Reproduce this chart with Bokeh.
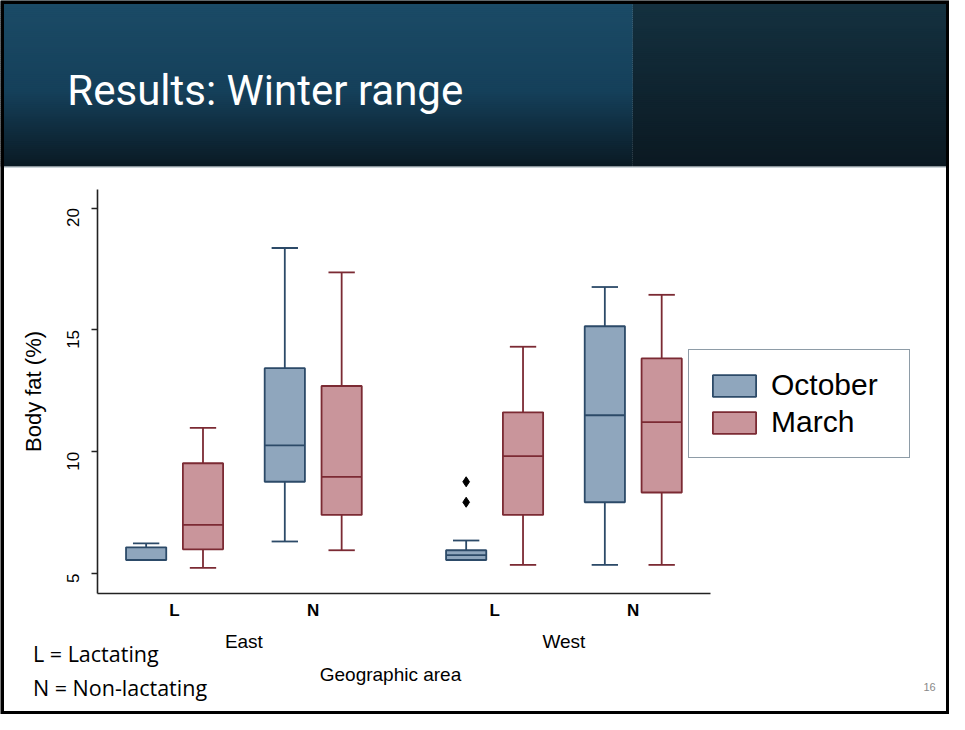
import math
from bokeh.plotting import figure
from bokeh.models import (ColumnDataSource, Range1d, FixedTicker, Legend, LegendItem,
                          LinearAxis)
from bokeh.transform import dodge
from bokeh.core.properties import value
from bokeh.embed import file_html
from bokeh.resources import INLINE

# ---------------- data ----------------
areas = ["East", "West"]
statuses = ["L", "N"]
months = ["October", "March"]

# order: East-L, East-N, West-L, West-N
oct_low = [5.56, 6.32, 5.56, 5.36]
oct_q1 = [5.56, 8.77, 5.56, 7.93]
oct_med = [5.56, 10.26, 5.76, 11.50]
oct_q3 = [6.08, 13.43, 5.96, 15.15]
oct_high = [6.24, 18.36, 6.36, 16.76]

mar_low = [5.24, 5.96, 5.36, 5.36]
mar_q1 = [6.00, 7.41, 7.41, 8.33]
mar_med = [7.00, 8.97, 9.82, 11.22]
mar_q3 = [9.53, 12.70, 11.62, 13.83]
mar_high = [10.98, 17.36, 14.31, 16.44]

outlier_area = ["West", "West"]
outlier_status = ["L", "L"]
outlier_vals = [8.77, 7.93]

y_ticks = [5, 10, 15, 20]
y_label = "Body fat (%)"
x_label = "Geographic area"
title_text = "Results: Winter range"
notes = ["L = Lactating", "N = Non-lactating"]
page_no = "16"

# ---------------- layout constants ----------------
W, H = 949, 714            # canvas
SW, SH = 965.0, 730.0       # slide design units
GROUP_STEP = 2.308          # distance between area groups (category units)
X0_PX, UNIT_PX = 177.0, 141.0        # slide px of first category, px per category
Y5_PX, YUNIT_PX = 586.0, 24.92       # slide px of y=5, px per y unit

def u_of(px):
    return (px - X0_PX) / UNIT_PX

def v_of(py):
    return 5 + (Y5_PX - py) / YUNIT_PX

cat_pos = {}
for gi, a in enumerate(areas):
    for si, s in enumerate(statuses):
        cat_pos[(a, s)] = gi * GROUP_STEP + si
order = [(a, s) for a in areas for s in statuses]
xpos = [cat_pos[k] for k in order]

p = figure(width=W, height=H,
           x_range=Range1d(u_of(0), u_of(SW)), y_range=Range1d(v_of(SH), v_of(0)),
           x_axis_type=None, y_axis_type=None,
           toolbar_location=None, output_backend="svg", min_border=0)
p.extra_x_ranges = {"sx": Range1d(0, SW)}
p.extra_y_ranges = {"sy": Range1d(SH, 0)}
p.outline_line_color = None
p.grid.visible = False
p.background_fill_color = "white"
p.border_fill_color = "white"

# ---------------- header (decoration) ----------------
def lerp(c1, c2, t):
    a = [int(c1[i:i + 2], 16) for i in (1, 3, 5)]
    b = [int(c2[i:i + 2], 16) for i in (1, 3, 5)]
    return "#%02x%02x%02x" % tuple(round(a[k] + (b[k] - a[k]) * t) for k in range(3))

n = 85
tops, bots, lcol, rcol = [], [], [], []
for i in range(n):
    tops.append(170 * i / n)
    bots.append(min(170, 170 * (i + 1) / n + 0.8))
    t = i / (n - 1)
    if t < 0.55:
        lcol.append(lerp("#1b4b67", "#15405a", t / 0.55))
    else:
        lcol.append(lerp("#15405a", "#0a1a24", (t - 0.55) / 0.45))
    rcol.append(lerp("#143140", "#0b1922", t))
p.quad(left=0, right=643, top=tops, bottom=bots, fill_color=lcol, line_color=None,
       x_range_name="sx", y_range_name="sy")
p.quad(left=643, right=SW, top=tops, bottom=bots, fill_color=rcol, line_color=None,
       x_range_name="sx", y_range_name="sy")
p.segment(x0=0, x1=SW, y0=170.5, y1=170.5, line_color="#cdd5da", line_width=1.5,
          x_range_name="sx", y_range_name="sy")
p.text(x=[68], y=[92], text=[title_text], text_color="white",
       text_font=value("Roboto"), text_font_size="42px",
       text_align="left", text_baseline="middle", x_range_name="sx", y_range_name="sy")

# ---------------- boxes ----------------
OFF = 0.205
BW = 0.29
CAP = 0.095

oct_src = ColumnDataSource(dict(x=xpos, low=oct_low, q1=oct_q1, med=oct_med, q3=oct_q3, high=oct_high))
mar_src = ColumnDataSource(dict(x=xpos, low=mar_low, q1=mar_q1, med=mar_med, q3=mar_q3, high=mar_high))

styles = [(oct_src, -OFF, "#8fa6bd", "#2c4a68"), (mar_src, OFF, "#c9959b", "#7b2a33")]
box_renderers = []
LW = 1.8
for src, off, fill, line in styles:
    xc = dodge("x", off)
    xl = dodge("x", off - CAP)
    xr = dodge("x", off + CAP)
    p.segment(x0=xc, x1=xc, y0="q3", y1="high", source=src, line_color=line, line_width=LW)
    p.segment(x0=xc, x1=xc, y0="q1", y1="low", source=src, line_color=line, line_width=LW)
    p.segment(x0=xl, x1=xr, y0="high", y1="high", source=src, line_color=line, line_width=LW)
    p.segment(x0=xl, x1=xr, y0="low", y1="low", source=src, line_color=line, line_width=LW)
    r = p.vbar(x=xc, width=BW, top="q3", bottom="q1", source=src,
               fill_color=fill, line_color=line, line_width=LW)
    box_renderers.append(r)
    bl = dodge("x", off - BW / 2)
    br = dodge("x", off + BW / 2)
    p.segment(x0=bl, x1=br, y0="med", y1="med", source=src, line_color=line, line_width=LW)

out_src = ColumnDataSource(dict(x=[cat_pos[(a, s)] for a, s in zip(outlier_area, outlier_status)],
                                y=outlier_vals))
p.scatter(x=dodge("x", -OFF), y="y", source=out_src, marker="diamond",
          size=10, fill_color="black", line_color="black")

# ---------------- axes ----------------
AX_LEFT = u_of(99)
AX_RIGHT = u_of(722)
AX_BOTTOM = v_of(606)
AX_TOP = v_of(193)
FONT = "Liberation Sans"

yax = LinearAxis(fixed_location=AX_LEFT, bounds=(AX_BOTTOM, AX_TOP),
                 ticker=FixedTicker(ticks=y_ticks), axis_label=y_label)
yax.major_label_orientation = math.pi / 2
yax.minor_tick_line_color = None
yax.major_tick_in = 0
yax.major_tick_out = 6
yax.major_label_standoff = 19
yax.major_label_text_font = FONT
yax.major_label_text_font_size = "17px"
yax.axis_label_text_font = FONT
yax.axis_label_text_font_size = "22px"
yax.axis_label_text_font_style = "normal"
yax.axis_label_standoff = 12
p.add_layout(yax, "left")

xax = LinearAxis(fixed_location=AX_BOTTOM, bounds=(AX_LEFT, AX_RIGHT),
                 ticker=FixedTicker(ticks=xpos),
                 major_label_overrides={cat_pos[k]: k[1] for k in order})
xax.major_tick_line_color = None
xax.major_tick_out = 0
xax.major_tick_in = 0
xax.minor_tick_line_color = None
xax.major_label_standoff = 8
xax.major_label_text_font = FONT
xax.major_label_text_font_size = "17px"
xax.major_label_text_font_style = "bold"
p.add_layout(xax, "below")

group_centers = [gi * GROUP_STEP + (len(statuses) - 1) / 2 for gi in range(len(areas))]
gax = LinearAxis(fixed_location=v_of(642), bounds=(AX_LEFT, u_of(695)),
                 ticker=FixedTicker(ticks=group_centers),
                 major_label_overrides={c: a for c, a in zip(group_centers, areas)},
                 axis_label=x_label)
gax.axis_line_color = None
gax.major_tick_line_color = None
gax.major_tick_out = 0
gax.major_tick_in = 0
gax.minor_tick_line_color = None
gax.major_label_standoff = 3
gax.major_label_text_font = FONT
gax.major_label_text_font_size = "19px"
gax.axis_label_text_font = FONT
gax.axis_label_text_font_size = "19px"
gax.axis_label_text_font_style = "normal"
gax.axis_label_standoff = 8
p.add_layout(gax, "below")

for ax in (xax, yax):
    ax.axis_line_color = "#222222"
    ax.axis_line_width = 1.6
for ax in (xax, yax, gax):
    ax.major_label_text_color = "black"
    ax.axis_label_text_color = "black"
yax.major_tick_line_color = "#222222"
yax.major_tick_line_width = 1.4

# ---------------- legend ----------------
legend = Legend(items=[LegendItem(label=months[0], renderers=[box_renderers[0]]),
                       LegendItem(label=months[1], renderers=[box_renderers[1]])],
                location=(688, 256), glyph_width=54, glyph_height=27,
                label_text_font=FONT, label_text_font_size="30px", label_text_color="black",
                label_standoff=10, padding=18, spacing=3, label_width=120,
                border_line_color="#1e3a4f", border_line_width=1.5,
                background_fill_color="white", background_fill_alpha=1.0)
p.add_layout(legend, "center")

# ---------------- notes ----------------
p.text(x=[33, 33], y=[668, 702], text=notes, text_color="black",
       text_font=value("Open Sans"), text_font_size="21.5px",
       text_align="left", text_baseline="middle", x_range_name="sx", y_range_name="sy")
p.text(x=[951], y=[702], text=[page_no], text_color="#888888",
       text_font=value("Liberation Sans"), text_font_size="11px",
       text_align="right", text_baseline="middle", x_range_name="sx", y_range_name="sy")

# slide border
p.quad(left=[0], right=[SW], top=[0], bottom=[SH], fill_color=None, line_color="black",
       line_width=7, x_range_name="sx", y_range_name="sy")

open("out.html", "w").write(file_html(p, INLINE))
